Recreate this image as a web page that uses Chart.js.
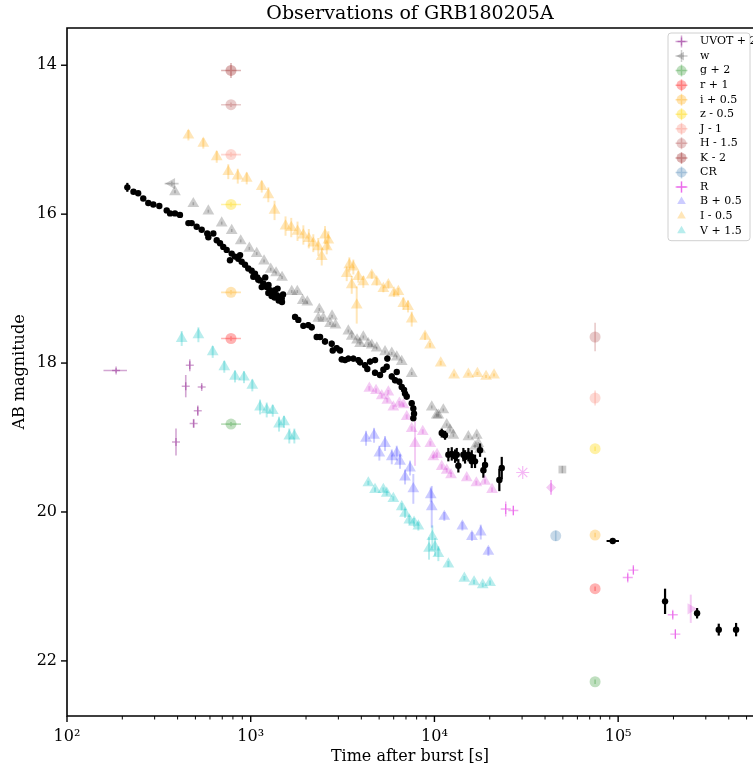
<!DOCTYPE html>
<html><head><meta charset="utf-8">
<script src="https://cdn.jsdelivr.net/npm/chart.js@4.4.0/dist/chart.umd.min.js"></script>
<style>html,body{margin:0;padding:0;background:#fff;}canvas{display:block;}</style>
</head><body>
<canvas id="c" width="753" height="767"></canvas>
<script>
// ---------------- data ----------------
const xTickValues = [1e2, 1e3, 1e4, 1e5];
const xTickLabels = ['10²', '10³', '10⁴', '10⁵'];
const yTicks = [14, 16, 18, 20, 22];

// black (unlabelled) series
const blackEarlyT = [213,230,244,260,277,295,318,349,364,387,412,458,477,508,541,580,588,626,653,681,709,740,771,788,821,856,875,893,931,970,1012,1033,1055,1086,1100,1124,1148,1171,1200,1222,1247,1250,1274,1300,1328,1350,1357,1386,1400,1420,1444,1450,1475,1480,1500];
const blackEarlyMag = [15.64,15.70,15.72,15.79,15.85,15.87,15.89,15.95,15.99,15.99,16.01,16.12,16.12,16.17,16.21,16.26,16.31,16.26,16.35,16.39,16.44,16.48,16.62,16.53,16.57,16.60,16.55,16.64,16.68,16.73,16.76,16.84,16.80,16.85,16.88,16.89,16.98,16.93,16.85,16.98,17.06,16.95,17.02,17.10,17.06,17.12,17.02,17.09,17.00,17.16,17.11,17.15,17.13,17.18,17.08];
const blackMidT = [1743,1816,1934,2058,2148,2287,2384,2538,2760,2795,2938,3063,3129,3261,3399,3619,3853,3936,4190,4313,4462,4750,4750,5057,5272,5541,5500,5858,6236,6105,6441,6637,6832,6918,7066,7522,7675,7745,7675];
const blackMidMag = [17.38,17.42,17.50,17.49,17.52,17.65,17.65,17.71,17.74,17.83,17.80,17.83,17.95,17.96,17.94,17.94,17.96,17.99,18.03,18.08,17.98,17.96,18.13,18.16,18.09,17.94,18.05,18.18,18.12,18.23,18.25,18.32,18.36,18.41,18.45,18.54,18.61,18.68,18.74];
const blackLateT = [10958,11423,11906,12424,12950,13228,13496,14372,14679,15300,15966,15966,16634,17712,18465,18860,22560,23250,93460,180000,268900,352900,438400];
const blackLateMag = [18.94,18.97,19.23,19.22,19.25,19.23,19.38,19.23,19.26,19.23,19.26,19.32,19.32,19.17,19.44,19.37,19.57,19.41,20.39,21.20,21.36,21.58,21.58];
const blackLateErr = [0.06,0.06,0.09,0.09,0.09,0.09,0.09,0.09,0.09,0.09,0.09,0.09,0.09,0.09,0.1,0.1,0.15,0.15,0.03,0.17,0.07,0.08,0.09];

// UVOT + 2
const uvotT = [185,466,443,541,515,489,392];
const uvotMag = [18.10,18.03,18.31,18.32,18.64,18.81,19.06];
const uvotErr = [0.03,0.08,0.15,0.03,0.07,0.06,0.18];

// w and grey triangles
const wT = [372];
const wMag = [15.59];
const greyT = [387,487,588,695,788,882,983,1078,1182,1285,1374,1481,1672,1793,1919,2033,2363,2333,2484,2702,2771,2894,3399,3547,3791,4102,3936,4368,4558,4852,5384,5858,6236,6637,7522,9668,10290,10500,11180,11667,12160,12680,15300,16997,17340,16634,17712];
const greyMag = [15.70,15.86,15.96,16.12,16.22,16.36,16.46,16.53,16.63,16.74,16.79,16.85,17.04,17.04,17.16,17.18,17.28,17.40,17.40,17.47,17.37,17.49,17.57,17.64,17.69,17.65,17.74,17.74,17.76,17.80,17.85,17.87,17.92,17.98,18.14,18.59,18.70,18.70,18.63,18.83,18.90,18.97,18.99,18.97,19.08,19.12,19.16];
const greySquareT = [49700];
const greySquareMag = [19.43];

// single-epoch photometry (circles)
const gT = [781, 74900], gMag = [18.82, 22.28];
const rT = [781, 74900], rMag = [17.67, 21.03];
const iT = [781, 74900], iMag = [17.05, 20.31];
const zT = [781, 74900], zMag = [15.87, 19.15];
const jT = [781, 74900], jMag = [15.20, 18.47], jErr = [0.03, 0.1];
const hT = [781, 74900], hMag = [14.53, 17.65], hErr = [0.03, 0.19];
const kT = [781], kMag = [14.07], kErr = [0.1];
const crT = [45740], crMag = [20.32], crErr = [0.07];

// R band
const rCrossT = [24440,26880,112800,121000,198300,204800];
const rCrossMag = [19.96,19.98,20.88,20.78,21.38,21.64];
const rCrossErr = [0.1,0.06,0.05,0.05,0.05,0.06];
const rStarT = [30240], rStarMag = [19.47];
const rDiamondT = [43120], rDiamondMag = [19.67];
const rRightT = [248500], rRightMag = [21.30];
const rTriT = [4423,4810,5166,5612,5541,5975,6441,6788,7066,7522,7842,8637,9500,9865,10330,10958,11667,12310,14990,16910,18860,20590];
const rTriMag = [18.34,18.37,18.44,18.39,18.50,18.59,18.54,18.56,18.72,18.88,19.08,18.92,19.08,19.26,19.23,19.39,19.44,19.50,19.54,19.61,19.59,19.70];

// B + 0.5
const bT = [4243,4691,5013,5384,5858,6236,6497,6918,7365,7675,9548,9668,11320,14190,16000,17870,19660];
const bMag = [19.01,18.97,19.21,19.08,19.26,19.21,19.32,19.53,19.41,19.69,19.77,19.93,20.06,20.19,20.33,20.27,20.53];
const bErr = [0.1,0.1,0.1,0.1,0.1,0.1,0.1,0.1,0.1,0.2,0.1,0.28,0.06,0.06,0.06,0.1,0.06];

// I - 0.5
const bigIT = [458,552,653,755,850,951,1148,1247,1348,1547,1662,1798,1934,2071,2191,2333,2435,2538,2646,2593,3331,3442,3619,3547,3776,3853,4102,4558,4852,5272,5612,6028,6362,6771,7183,7522,8889,9462,10820,12790,15300,17130,19100,21110];
const bigIMag = [14.94,15.05,15.23,15.43,15.49,15.52,15.63,15.74,15.95,16.16,16.18,16.23,16.28,16.33,16.39,16.44,16.57,16.28,16.35,16.44,16.80,16.68,16.71,16.95,17.22,16.84,16.91,16.82,16.91,17.00,16.95,17.06,17.04,17.20,17.24,17.41,17.64,17.76,18.00,18.16,18.15,18.14,18.18,18.16];
const bigIErr = [0.07,0.07,0.08,0.1,0.1,0.08,0.08,0.1,0.13,0.13,0.13,0.13,0.13,0.13,0.12,0.12,0.12,0.12,0.12,0.1,0.1,0.1,0.1,0.12,0.25,0.08,0.08,0.05,0.05,0.05,0.05,0.05,0.05,0.08,0.08,0.1,0.05,0.03,0.03,0.02,0.02,0.02,0.02,0.02];

// V + 1.5
const vT = [421,519,621,718,821,919,1020,1124,1222,1318,1426,1518,1622,1728,4368,4750,5272,5500,5975,6637,6918,7300,7745,8175,9741,9346,10077,10500,11906,14550,16430,18320,20080];
const vMag = [17.67,17.62,17.85,18.05,18.18,18.19,18.30,18.59,18.63,18.64,18.82,18.79,18.98,18.98,19.61,19.70,19.70,19.75,19.82,19.93,20.02,20.11,20.14,20.19,20.33,20.49,20.47,20.56,20.70,20.89,20.94,20.98,20.95];
const vErr = [0.1,0.1,0.08,0.08,0.08,0.08,0.08,0.1,0.1,0.08,0.1,0.08,0.1,0.1,0.03,0.03,0.03,0.03,0.03,0.05,0.06,0.06,0.06,0.06,0.15,0.15,0.12,0.1,0.04,0.03,0.03,0.03,0.03];

// ---------------- helpers ----------------
function pts(T, M, E, XL, XH) {
  return T.map((t, i) => ({x: t, y: M[i], e: E ? (Array.isArray(E) ? E[i] : E) : 0,
    xl: XL ? XL[i] : null, xh: XH ? XH[i] : null}));
}
function circleErr(T) { return T.map(t => t < 1000 ? 690 : null); }
function circleErrHi(T) { return T.map(t => t < 1000 ? 885 : null); }

const SERIF = "'DejaVu Serif', 'Liberation Serif', serif";

function ds(opts) {
  return Object.assign({
    showLine: false, pointBorderWidth: 0, pointRotation: 0, errWidth: 1.6
  }, opts);
}

const C = {
  uvot: 'rgba(128,0,128,0.35)', grey: 'rgba(0,0,0,0.2)', g: 'rgba(0,128,0,0.25)',
  r: 'rgba(255,0,0,0.3)', i: 'rgba(255,165,0,0.3)', z: 'rgba(255,215,0,0.35)',
  j: 'rgba(250,128,114,0.3)', h: 'rgba(165,42,42,0.25)', k: 'rgba(139,0,0,0.3)',
  cr: 'rgba(70,130,180,0.3)', R: 'rgba(220,0,220,0.35)', Rstar: 'rgba(220,0,220,0.28)', Rtri: 'rgba(200,0,200,0.2)',
  B: 'rgba(0,0,255,0.2)', I: 'rgba(255,165,0,0.28)', V: 'rgba(0,191,191,0.28)'
};

const circ = (label, col, T, M, E, lo) => ds({
  legendLabel: label, legendOrder: lo, data: pts(T, M, E || 0.03, circleErr(T), circleErrHi(T)),
  pointStyle: 'circle', pointRadius: 5.5, pointBackgroundColor: col, pointBorderColor: col, errColor: col, legendCross: true
});

const datasets = [
  ds({ data: pts(blackEarlyT, blackEarlyMag, blackEarlyT.map((t, i) => i === 0 ? 0.06 : 0.03))
        .concat(pts(blackMidT, blackMidMag, 0.04))
        .concat(pts(blackLateT, blackLateMag, blackLateErr,
          blackLateT.map(t => t === 93460 ? 86500 : null), blackLateT.map(t => t === 93460 ? 101000 : null))),
       pointStyle: 'circle', pointRadius: 3.2, pointBackgroundColor: '#000', pointBorderColor: '#000',
       errColor: '#000', errWidth: 2.2 }),
  ds({ legendLabel: 'UVOT + 2', legendOrder: 0, legendCross: true,
       data: pts(uvotT, uvotMag, uvotErr, uvotT.map(t => t === 185 ? 158 : null), uvotT.map(t => t === 185 ? 212 : null)),
       pointStyle: 'cross', pointRadius: 4, pointBorderWidth: 1.5, pointBackgroundColor: C.uvot, pointBorderColor: C.uvot, errColor: C.uvot }),
  ds({ legendLabel: 'w', legendOrder: 1, legendCross: true, data: pts(wT, wMag, 0.03, [340], [405]),
       pointStyle: 'triangle', pointRotation: -90, pointRadius: 6.5, pointBackgroundColor: C.grey, pointBorderColor: C.grey, errColor: C.grey }),
  ds({ data: pts(greyT, greyMag, 0.02), pointStyle: 'triangle', pointRadius: 6.8,
       pointBackgroundColor: C.grey, pointBorderColor: C.grey, errColor: C.grey }),
  ds({ data: pts(greySquareT, greySquareMag, 0.05), pointStyle: 'rect', pointRadius: 5.5,
       pointBackgroundColor: C.grey, pointBorderColor: C.grey, errColor: C.grey }),
  circ('g + 2', C.g, gT, gMag, 0.03, 2),
  circ('r + 1', C.r, rT, rMag, 0.03, 3),
  circ('i + 0.5', C.i, iT, iMag, 0.03, 4),
  circ('z - 0.5', C.z, zT, zMag, 0.03, 5),
  circ('J - 1', C.j, jT, jMag, jErr, 6),
  circ('H - 1.5', C.h, hT, hMag, hErr, 7),
  circ('K - 2', C.k, kT, kMag, kErr, 8),
  circ('CR', C.cr, crT, crMag, crErr, 9),
  ds({ legendLabel: 'R', legendOrder: 10, legendCross: true, data: pts(rCrossT, rCrossMag, rCrossErr),
       pointStyle: 'cross', pointRadius: 5, pointBorderWidth: 1.3, pointBackgroundColor: C.R, pointBorderColor: C.R, errColor: C.R, errWidth: 1.3 }),
  ds({ data: pts(rStarT, rStarMag, 0), pointStyle: 'star', pointRadius: 6.5, pointBorderWidth: 1.2,
       pointBackgroundColor: C.Rstar, pointBorderColor: C.Rstar, errColor: C.Rstar }),
  ds({ data: pts(rDiamondT, rDiamondMag, 0.1), pointStyle: 'rectRot', pointRadius: 5,
       pointBackgroundColor: C.Rtri, pointBorderColor: C.Rtri, errColor: C.R }),
  ds({ data: pts(rRightT, rRightMag, 0.19), pointStyle: 'triangle', pointRotation: 90, pointRadius: 6.5,
       pointBackgroundColor: C.Rtri, pointBorderColor: C.Rtri, errColor: C.Rtri, errWidth: 2 }),
  ds({ data: pts(rTriT, rTriMag, rTriT.map(t => t === 7842 ? 0.3 : 0.03)), pointStyle: 'triangle', pointRadius: 6.8,
       pointBackgroundColor: C.Rtri, pointBorderColor: C.Rtri, errColor: C.Rtri, errWidth: 2 }),
  ds({ legendLabel: 'B + 0.5', legendOrder: 11, data: pts(bT, bMag, bErr), pointStyle: 'triangle', pointRadius: 6.8,
       pointBackgroundColor: C.B, pointBorderColor: C.B, errColor: C.B, errWidth: 2 }),
  ds({ legendLabel: 'I - 0.5', legendOrder: 12, data: pts(bigIT, bigIMag, bigIErr), pointStyle: 'triangle', pointRadius: 6.8,
       pointBackgroundColor: C.I, pointBorderColor: C.I, errColor: C.I, errWidth: 2 }),
  ds({ legendLabel: 'V + 1.5', legendOrder: 13, data: pts(vT, vMag, vErr), pointStyle: 'triangle', pointRadius: 6.8,
       pointBackgroundColor: C.V, pointBorderColor: C.V, errColor: C.V, errWidth: 2 })
];

// ---------------- plugins ----------------
const errorBars = {
  id: 'errorBars',
  beforeDatasetsDraw(chart) {
    const ctx = chart.ctx, xs = chart.scales.x, ys = chart.scales.y, a = chart.chartArea;
    ctx.save();
    ctx.beginPath(); ctx.rect(a.left, a.top, a.right - a.left, a.bottom - a.top); ctx.clip();
    for (let d = chart.data.datasets.length - 1; d >= 0; d--) {
      const set = chart.data.datasets[d];
      ctx.strokeStyle = set.errColor; ctx.lineWidth = set.errWidth; ctx.lineCap = 'butt';
      set.data.forEach(p => {
        const px = xs.getPixelForValue(p.x), py = ys.getPixelForValue(p.y);
        ctx.beginPath();
        if (p.e) { ctx.moveTo(px, ys.getPixelForValue(p.y - p.e)); ctx.lineTo(px, ys.getPixelForValue(p.y + p.e)); }
        if (p.xl) { ctx.moveTo(xs.getPixelForValue(p.xl), py); ctx.lineTo(xs.getPixelForValue(p.xh), py); }
        ctx.stroke();
      });
    }
    ctx.restore();
  }
};

const frame = {
  id: 'frame',
  afterDraw(chart) {
    const ctx = chart.ctx, a = chart.chartArea, xs = chart.scales.x, ys = chart.scales.y;
    ctx.save();
    ctx.strokeStyle = '#000'; ctx.lineWidth = 1.6;
    ctx.beginPath();
    ctx.moveTo(a.right + 2, a.top); ctx.lineTo(a.left, a.top); ctx.lineTo(a.left, a.bottom); ctx.lineTo(a.right + 2, a.bottom);
    ctx.stroke();
    ctx.lineWidth = 1.4;
    yTicks.forEach(v => { const y = ys.getPixelForValue(v); ctx.beginPath(); ctx.moveTo(a.left, y); ctx.lineTo(a.left - 6, y); ctx.stroke(); });
    xs.ticks.forEach(t => {
      const x = xs.getPixelForValue(t.value);
      const major = xTickValues.includes(t.value);
      ctx.lineWidth = major ? 1.4 : 1;
      ctx.beginPath(); ctx.moveTo(x, a.bottom); ctx.lineTo(x, a.bottom + (major ? 6 : 3.5)); ctx.stroke();
    });
    ctx.restore();
  }
};

const legendBox = {
  id: 'legendBox',
  afterDraw(chart) {
    const ctx = chart.ctx, a = chart.chartArea;
    const items = chart.data.datasets.filter(s => s.legendLabel).sort((p, q) => p.legendOrder - q.legendOrder);
    const x0 = a.right - 85, y0 = a.top + 5, w = 82, step = 14.55, h = items.length * step + 4;
    ctx.save();
    ctx.beginPath();
    if (ctx.roundRect) ctx.roundRect(x0, y0, w, h, 3); else ctx.rect(x0, y0, w, h);
    ctx.fillStyle = 'rgba(255,255,255,0.85)'; ctx.fill();
    ctx.strokeStyle = '#d0d0d0'; ctx.lineWidth = 1; ctx.stroke();
    items.forEach((s, k) => {
      const cy = y0 + 8.5 + k * step, cx = x0 + 13.5;
      ctx.strokeStyle = s.errColor; ctx.fillStyle = s.pointBackgroundColor; ctx.lineWidth = 1.5;
      if (s.legendCross) {
        ctx.beginPath(); ctx.moveTo(cx - 6, cy); ctx.lineTo(cx + 6, cy); ctx.moveTo(cx, cy - 6); ctx.lineTo(cx, cy + 6); ctx.stroke();
      }
      ctx.strokeStyle = s.pointBorderColor; ctx.lineWidth = s.pointBorderWidth || 0.01;
      Chart.helpers.drawPoint(ctx, { pointStyle: s.pointStyle, radius: Math.min(s.pointRadius, 5), rotation: s.pointRotation || 0,
        borderWidth: s.pointBorderWidth || 0 }, cx, cy);
      ctx.fillStyle = '#000'; ctx.font = "11px " + SERIF; ctx.textBaseline = 'middle'; ctx.textAlign = 'left';
      ctx.fillText(s.legendLabel, x0 + 32, cy);
    });
    ctx.restore();
  }
};

// ---------------- chart ----------------
new Chart(document.getElementById('c'), {
  type: 'scatter',
  data: { datasets },
  plugins: [errorBars, frame, legendBox],
  options: {
    responsive: false, animation: false, events: [], devicePixelRatio: 1,
    layout: { padding: 0, autoPadding: false },
    font: { family: SERIF },
    plugins: {
      legend: { display: false }, tooltip: { enabled: false },
      title: { display: true, text: 'Observations of GRB180205A', fullSize: false, color: '#000',
               font: { family: SERIF, size: 19, weight: 'normal' }, padding: { top: 3, bottom: 2.2 } }
    },
    scales: {
      x: {
        type: 'logarithmic', min: 100, max: 542000,
        afterBuildTicks(axis) {
          const t = [];
          for (let e = 2; e <= 5; e++) for (let m = 1; m <= 9; m++) { const v = m * Math.pow(10, e); if (v <= axis.max) t.push({ value: v }); }
          axis.ticks = t;
        },
        afterFit(axis) { axis.height = 51; axis.paddingLeft = 0; axis.paddingRight = 0; },
        grid: { display: false, drawTicks: false }, border: { display: false },
        ticks: { autoSkip: false, maxRotation: 0, color: '#000', padding: 11, font: { family: SERIF, size: 16 },
                 callback(v) { const k = xTickValues.indexOf(v); return k >= 0 ? xTickLabels[k] : ''; } },
        title: { display: true, text: 'Time after burst [s]', color: '#000', font: { family: SERIF, size: 16 }, padding: { top: 0, bottom: 1 } }
      },
      y: {
        type: 'linear', reverse: true, min: 13.5, max: 22.74,
        afterBuildTicks(axis) { axis.ticks = yTicks.map(v => ({ value: v })); },
        afterFit(axis) { axis.width = 67; axis.paddingTop = 0; axis.paddingBottom = 0; },
        grid: { display: false, drawTicks: false }, border: { display: false },
        ticks: { color: '#000', padding: 10, font: { family: SERIF, size: 16 } },
        title: { display: true, text: 'AB magnitude', color: '#000', font: { family: SERIF, size: 16 }, padding: { top: 10.5, bottom: 0 } }
      }
    }
  }
});
</script>
</body></html>
